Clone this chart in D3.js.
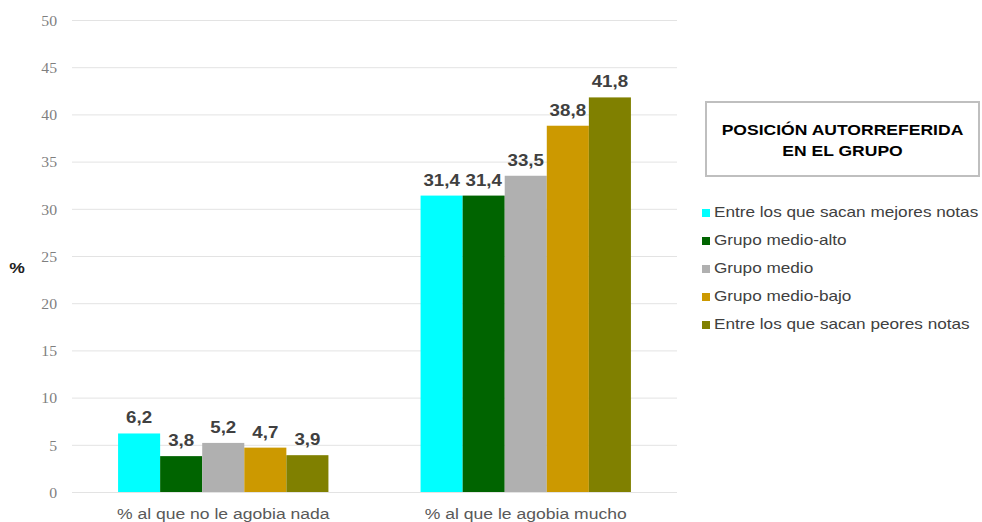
<!DOCTYPE html>
<html>
<head>
<meta charset="utf-8">
<script src="https://cdn.jsdelivr.net/npm/d3@7"></script>
<style>
  html, body { margin: 0; padding: 0; background: #fff; }
  svg { display: block; }
</style>
</head>
<body>
<svg id="chart" width="982" height="522"></svg>
<script>
// Categories along the x axis
const categories = ["% al que no le agobia nada", "% al que le agobia mucho"];
// Groups (series) of self-reported position
const series = [
  "Entre los que sacan mejores notas",
  "Grupo medio-alto",
  "Grupo medio",
  "Grupo medio-bajo",
  "Entre los que sacan peores notas"
];
const seriesColors = ["#00FFFF", "#006400", "#B0B0B0", "#CC9900", "#808000"];
// Values per series, one per category
const valMejores = [6.2, 31.4];
const valMedioAlto = [3.8, 31.4];
const valMedio = [5.2, 33.5];
const valMedioBajo = [4.7, 38.8];
const valPeores = [3.9, 41.8];
const seriesValues = [valMejores, valMedioAlto, valMedio, valMedioBajo, valPeores];
const yTicks = [0, 5, 10, 15, 20, 25, 30, 35, 40, 45, 50];
const legendTitle = ["POSICIÓN AUTORREFERIDA", "EN EL GRUPO"];

// Text is drawn slightly widened horizontally
const SX = 1.17;
const sans = "'Liberation Sans', Arial, sans-serif";
const at = (x, y, sx = SX) => `translate(${x},${y}) scale(${sx},1)`;

const svg = d3.select("#chart");
const plotLeft = 72, plotRight = 677, plotTop = 20, plotBottom = 492;

const x0 = d3.scaleBand().domain(categories).range([plotLeft, plotRight])
  .paddingInner(0.3046).paddingOuter(0.1523);
const x1 = d3.scaleBand().domain(series).range([0, x0.bandwidth()]);
const y = d3.scaleLinear().domain([0, 50]).range([plotBottom, plotTop]);

// Gridlines and y tick labels
const yAxis = d3.axisLeft(y).tickValues(yTicks).tickSize(-(plotRight - plotLeft));
const gy = svg.append("g").attr("transform", `translate(${plotLeft},0)`).call(yAxis);
gy.select(".domain").remove();
gy.selectAll(".tick line").attr("stroke", "#e3e3e3").attr("stroke-width", 1);
gy.selectAll(".tick text")
  .attr("x", 0).attr("dy", "0.35em")
  .attr("transform", at(-15, 0, 1.05))
  .attr("fill", "#7f7f7f")
  .style("font-family", "'Liberation Serif', 'DejaVu Serif', serif")
  .style("font-size", "15px");

// Axis title
svg.append("text").attr("transform", at(17, 273)).attr("text-anchor", "middle")
  .style("font-family", sans)
  .style("font-size", "15px").style("font-weight", "bold").attr("fill", "#222")
  .text("%");

// Bars
const rows = [];
series.forEach((s, i) => {
  categories.forEach((c, j) => rows.push({ s, c, v: seriesValues[i][j], color: seriesColors[i] }));
});

svg.append("g").selectAll("rect").data(rows).join("rect")
  .attr("x", d => x0(d.c) + x1(d.s))
  .attr("y", d => y(d.v))
  .attr("width", x1.bandwidth())
  .attr("height", d => y(0) - y(d.v))
  .attr("fill", d => d.color);

// Value labels
svg.append("g").selectAll("text").data(rows).join("text")
  .attr("transform", d => at(x0(d.c) + x1(d.s) + x1.bandwidth() / 2, y(d.v) - 10))
  .attr("text-anchor", "middle")
  .style("font-family", sans)
  .style("font-size", "16px").style("font-weight", "bold")
  .attr("fill", "#404040")
  .text(d => d3.format(".1f")(d.v).replace(".", ","));

// Category labels
const xAxis = d3.axisBottom(x0).tickSize(0);
const gx = svg.append("g").attr("transform", `translate(0,${plotBottom})`).call(xAxis);
gx.select(".domain").remove();
gx.selectAll(".tick text")
  .attr("y", 0).attr("dy", 0)
  .attr("transform", at(0, 27))
  .attr("fill", "#595959")
  .style("font-family", sans)
  .style("font-size", "15px");

// Legend title box
svg.append("rect").attr("x", 706).attr("y", 102).attr("width", 273).attr("height", 74)
  .attr("fill", "#fff").attr("stroke", "#bfbfbf").attr("stroke-width", 2);
svg.append("g").selectAll("text").data(legendTitle).join("text")
  .attr("transform", (d, i) => at(842.5, 135 + i * 21))
  .attr("text-anchor", "middle")
  .style("font-family", sans)
  .style("font-size", "15px").style("font-weight", "bold").attr("fill", "#000")
  .text(d => d);

// Legend entries
const leg = svg.append("g").selectAll("g").data(series).join("g")
  .attr("transform", (d, i) => `translate(700,${217 + i * 28})`);
leg.append("rect").attr("x", 2).attr("y", -8).attr("width", 8).attr("height", 8)
  .attr("fill", (d, i) => seriesColors[i]);
leg.append("text").attr("transform", at(14, 0, 1.145))
  .style("font-family", sans)
  .style("font-size", "15px").attr("fill", "#404040")
  .text(d => d);
</script>
</body>
</html>
